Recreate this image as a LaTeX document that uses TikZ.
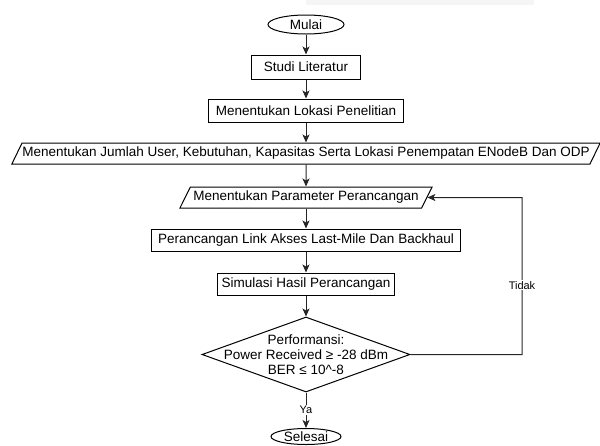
\documentclass[tikz,border=0pt]{standalone}
\usepackage{fontspec}
\setmainfont{Liberation Sans}
\usetikzlibrary{shapes,arrows.meta}

\begin{document}
\begin{tikzpicture}[x=1pt,y=-1pt,line width=1pt,font=\fontsize{13.5}{15}\selectfont,
  box/.style={shape=rectangle,draw,inner sep=0,minimum height=22},
  term/.style={shape=ellipse,draw,inner sep=0},
  data/.style={shape=trapezium,trapezium left angle=51,trapezium right angle=129,trapezium stretches=true,draw,inner sep=0,minimum height=21},
  arr/.style={draw=black!85,-{Stealth[length=8pt,width=7pt,inset=2pt]}},
  lbl/.style={fill=white,inner sep=1pt,font=\fontsize{11}{12}\selectfont}]
\useasboundingbox (0,0) rectangle (600,445);
\fill[black!4] (306,0) rectangle (534,5);

\node[term,minimum width=76,minimum height=19] (mulai) at (306,24.5) {Mulai};
\node[box,minimum width=109,minimum height=24] (studi) at (306,67) {Studi Literatur};
\node[box,minimum width=195,minimum height=23] (lokasi) at (306,110.5) {Menentukan Lokasi Penelitian};
\node[data,minimum width=591] (jumlah) at (306,153.5) {Menentukan Jumlah User, Kebutuhan, Kapasitas Serta Lokasi Penempatan ENodeB Dan ODP};
\node[data,minimum width=253] (param) at (306,197.5) {Menentukan Parameter Perancangan};
\node[box,minimum width=309] (link) at (306,240) {Perancangan Link Akses Last-Mile Dan Backhaul};
\node[box,minimum width=177] (simul) at (306,284) {Simulasi Hasil Perancangan};
\node[shape=diamond,draw,inner sep=0,minimum width=208,minimum height=75,
  label={[align=center]center:Performansi:\\Power Received ≥ -28 dBm\\BER ≤ 10\textasciicircum-8}] (perf) at (306,354.5) {};
\node[term,minimum width=70,minimum height=16] (selesai) at (306,436.5) {Selesai};
\coordinate (back) at (522,197.5);

\foreach \a/\b in {mulai/studi,studi/lokasi,lokasi/jumlah,jumlah/param,param/link,link/simul,simul/perf}
  \draw[arr] (\a) -- (\b);
\draw[arr] (perf) -- node[lbl] {Ya} (selesai);
\draw[arr] (perf.east) -| node[lbl,pos=0.72] {Tidak} (back) -- (param);
\end{tikzpicture}
\end{document}
